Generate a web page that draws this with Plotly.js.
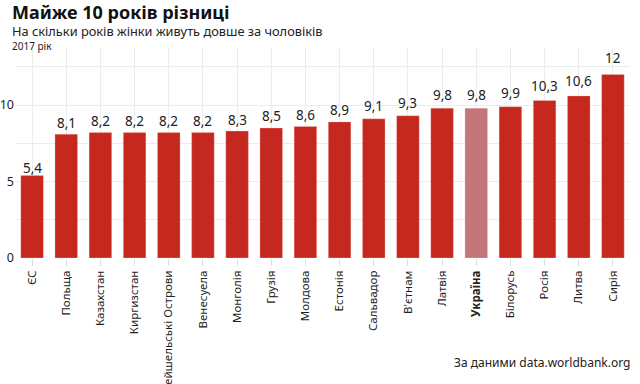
<!DOCTYPE html>
<html><head><meta charset="utf-8">
<script src="https://cdn.plot.ly/plotly-3.0.1.min.js"></script>
<style>body{margin:0;padding:0;background:#fff}#chart{width:640px;height:384px}</style>
</head><body><div id="chart"></div>
<script>
var countries = ["ЄС","Польща","Казахстан","Киргизстан","Сейшельські Острови","Венесуела","Монголія","Грузія","Молдова","Естонія","Сальвадор","В'єтнам","Латвія","Україна","Білорусь","Росія","Литва","Сирія"];
var gapYears = [5.4,8.1,8.2,8.2,8.2,8.2,8.3,8.5,8.6,8.9,9.1,9.3,9.8,9.8,9.9,10.3,10.6,12];
var highlight = "Україна";
var yTicks = [0,5,10];

var FONT = "Noto Sans, Open Sans, sans-serif";
var RED = "#c4281f", PINK = "#c4767b";
var L=15, T=47, W=640, H=384, PW=615, PH=211;
function px(x){return (x-L)/PW;}
function py(y){return (T+PH-y)/PH;}

var colors = countries.map(function(c){return c===highlight?PINK:RED;});
var texts = gapYears.map(function(v){return String(v).replace('.',',');});
var tickText = countries.map(function(c){return c===highlight?'<b>'+c+'</b>':c;});

var trace = {
  type:'bar', x:countries, y:gapYears,
  marker:{color:colors, line:{color:'rgba(255,200,200,0.6)', width:0.5}},
  hoverinfo:'none'
};
var labelAnns = countries.map(function(c,i){
  return {text:texts[i], x:c, y:gapYears[i]*1.09, xref:'x', yref:'y', showarrow:false,
    xanchor:'center', yanchor:'middle', font:{family:FONT, size:13.5, color:'#222'}};
});
var layout = {
  width:W, height:H,
  margin:{l:L, r:W-L-PW, t:T, b:H-T-PH, pad:0},
  paper_bgcolor:'#fff', plot_bgcolor:'#fff',
  bargap:0.34, showlegend:false,
  font:{family:FONT, color:'#222'},
  xaxis:{type:'category', tickvals:countries, ticktext:tickText, tickangle:-90,
    tickfont:{family:FONT, size:11.5, color:'#222'},
    showgrid:true, gridcolor:'#ececec', gridwidth:1,
    ticks:'outside', ticklen:7, tickcolor:'#e0e0e0', showline:false, zeroline:false,
    range:[-0.5, countries.length-0.5]},
  yaxis:{range:[0,13.8], tickvals:yTicks, ticktext:yTicks.map(String),
    tickfont:{family:FONT, size:12.5, color:'#222'},
    showgrid:true, gridcolor:'#ececec', zeroline:false, ticks:'',
    minor:{dtick:2.5, showgrid:true, gridcolor:'#ececec'}},
  annotations:[
    {text:'<b>Майже 10 років різниці</b>', xref:'paper', yref:'paper', x:px(10), y:py(11.5), xanchor:'left', yanchor:'middle', showarrow:false, font:{family:FONT, size:18, color:'#111'}},
    {text:'На скільки років жінки живуть довше за чоловіків', xref:'paper', yref:'paper', x:px(10), y:py(31), xanchor:'left', yanchor:'middle', showarrow:false, font:{family:FONT, size:12.8, color:'#222'}},
    {text:'2017 рік', xref:'paper', yref:'paper', x:px(10), y:py(46.5), xanchor:'left', yanchor:'middle', showarrow:false, font:{family:FONT, size:10, color:'#222'}},
    {text:'За даними data.worldbank.org', xref:'paper', yref:'paper', x:px(632), y:py(362), xanchor:'right', yanchor:'middle', showarrow:false, font:{family:FONT, size:12, color:'#222'}}
  ].concat(labelAnns)
};
Plotly.newPlot('chart',[trace],layout,{displayModeBar:false, staticPlot:true});
</script></body></html>
